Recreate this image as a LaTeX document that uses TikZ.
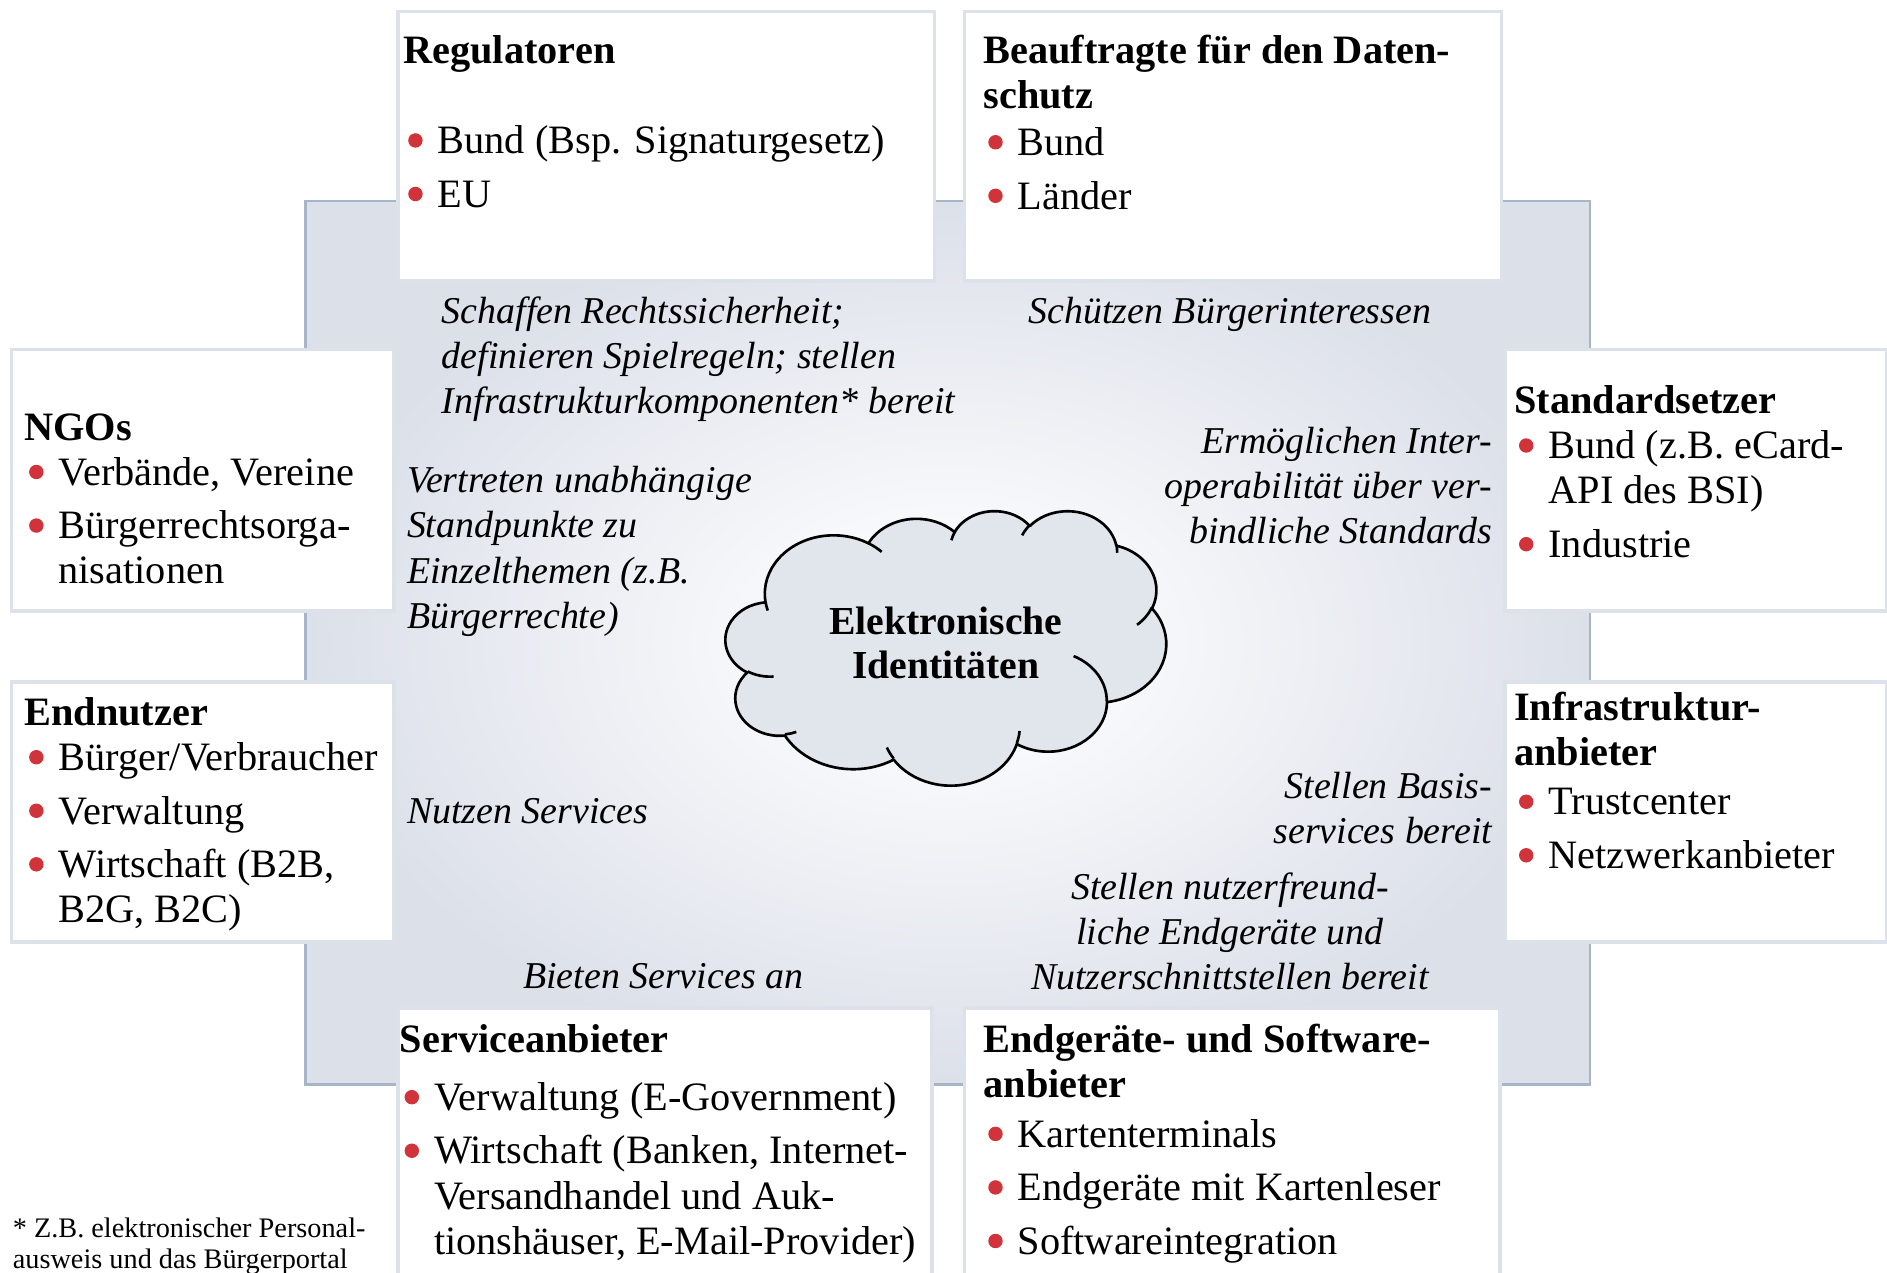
\documentclass[tikz,border=0pt]{standalone}
\usepackage{fontspec}
\setmainfont{Liberation Serif}
\usepackage{xcolor}
\definecolor{bred}{RGB}{208,52,58}
\definecolor{panelA}{HTML}{F9FAFC}
\definecolor{panelB}{HTML}{DCE0E9}
\definecolor{panelline}{HTML}{A8B4C8}
\definecolor{boxline}{HTML}{DDE2EA}
\definecolor{cloudfill}{HTML}{E1E5EC}
\pgfdeclareradialshading{panelshade}{\pgfpoint{0bp}{0bp}}{color(0bp)=(panelA); color(6bp)=(panelA); color(25bp)=(panelB); color(50bp)=(panelB)}
\newsavebox\bulbox
\newcommand\bul{\makebox[28.5pt][l]{\hspace{4pt}\raisebox{5pt}{\usebox\bulbox}}}
\newcommand\ind{\hspace*{28.5pt}}
% OOXML arcTo -> TikZ parametric arc
\newcommand\mkarc[5]{%
  \pgfmathsetmacro\tmpS{atan2((#2)*sin(#4),(#3)*cos(#4))}%
  \pgfmathsetmacro\tmpE{atan2((#2)*sin((#4)+(#5)),(#3)*cos((#4)+(#5)))}%
  \pgfmathsetmacro\tmpD{mod(\tmpE-\tmpS+720,360)}%
  \pgfmathsetmacro\tmpX{(#2)/10}\pgfmathsetmacro\tmpY{(#3)/10}%
  \expandafter\xdef\csname arcS#1\endcsname{\tmpS}%
  \expandafter\xdef\csname arcD#1\endcsname{\tmpD}%
  \expandafter\xdef\csname arcX#1\endcsname{\tmpX}%
  \expandafter\xdef\csname arcY#1\endcsname{\tmpY}%
}
\newcommand\carc[1]{arc[start angle=\csname arcS#1\endcsname, delta angle=\csname arcD#1\endcsname, x radius=\csname arcX#1\endcsname, y radius=\csname arcY#1\endcsname]}
\begin{document}
\sbox\bulbox{\begin{pgfpicture}\pgfsetfillcolor{bred}\pgfpathcircle{\pgfpointorigin}{6pt}\pgfusepath{fill}\end{pgfpicture}}%
\mkarc{A}{6753}{9190}{-190.48748}{123.78053}%
\mkarc{B}{5333}{7267}{-144.10238}{89.94523}%
\mkarc{C}{4365}{5945}{-145.80792}{99.72302}%
\mkarc{D}{4857}{6595}{-130.98607}{117.24173}%
\mkarc{E}{5333}{7273}{-78.70888}{109.02692}%
\mkarc{F}{6775}{9220}{-46.26725}{130.269}%
\mkarc{G}{5785}{7867}{0.62502}{114.03333}%
\mkarc{H}{6752}{9215}{22.4516}{115.17255}%
\mkarc{I}{7720}{10543}{66.24263}{75.71102}%
\mkarc{J}{4360}{5918}{-274.94208}{146.73557}%
\mkarc{K}{4345}{5945}{-246.8285}{152.51885}%
\mkarc{a}{4345}{5945}{86.742}{26.4295}%
\mkarc{b}{4360}{5918}{73.6105}{11.4475}%
\mkarc{c}{6752}{9215}{137.6242}{14.0811}%
\mkarc{d}{6752}{9215}{6.4533}{15.9984}%
\mkarc{e}{5785}{7867}{-70.2924}{70.9174}%
\mkarc{f}{5333}{7273}{30.3180}{27.7515}%
\mkarc{g}{4857}{6595}{-13.7443}{14.8589}%
\mkarc{h}{4857}{6595}{-149.1815}{18.1954}%
\mkarc{i}{4365}{5945}{-163.4943}{17.6864}%
\mkarc{j}{6753}{9190}{-66.7070}{12.3194}%
\mkarc{k}{6753}{9190}{157.6544}{11.8582}%
\begin{tikzpicture}[x=1pt,y=-1pt,
  wbox/.style={fill=white, draw=boxline, line width=3pt, inner sep=0, anchor=north west},
  boxtext/.style={inner sep=0, anchor=north west, align=left, font=\fontsize{33.5}{37.5}\selectfont},
  lbl/.style={inner sep=0, font=\fontsize{31.5}{37.5}\selectfont\itshape},
  cloudline/.style={draw=black, line width=2.2pt, line join=round}]
\useasboundingbox (0,0) rectangle (1568,1057);
% central panel
\node[shade, shading=panelshade, draw=panelline, line width=2pt, inner sep=0,
      minimum width=1067pt, minimum height=734pt, anchor=north west] (panel) at (253,166) {};
% white boxes
\node[wbox, minimum width=446pt, minimum height=224pt] (reg) at (329,8) {};
\node[wbox, minimum width=446pt, minimum height=224pt] (dsb) at (800,8) {};
\node[wbox, minimum width=318pt, minimum height=217pt] (ngo) at (8,289) {};
\node[wbox, minimum width=318pt, minimum height=216pt] (end) at (8,565) {};
\node[wbox, minimum width=317pt, minimum height=217pt] (std) at (1249,289) {};
\node[wbox, minimum width=317pt, minimum height=216pt] (inf) at (1249,565) {};
\node[wbox, minimum width=444pt, minimum height=240pt] (srv) at (329,836) {};
\node[wbox, minimum width=445pt, minimum height=240pt] (dev) at (800,836) {};
% box texts
\node[boxtext] (regT) at (335,26.25) {\strut\textbf{Regulatoren}\\[37.5pt]\bul Bund (Bsp. Signaturgesetz)\\[7pt]\bul EU};
\node[boxtext] (dsbT) at (817,26.25) {\strut\textbf{Beauftragte für den Daten-}\\\textbf{schutz}\\[1.5pt]\bul Bund\\[7pt]\bul Länder};
\node[boxtext] (ngoT) at (20,339.25) {\strut\textbf{NGOs}\\\bul Verbände, Vereine\\[7pt]\bul Bürgerrechtsorga-\\\ind nisationen};
\node[boxtext] (endT) at (20,576.25) {\strut\textbf{Endnutzer}\\\bul Bürger/Verbraucher\\[7pt]\bul Verwaltung\\[7pt]\bul Wirtschaft (B2B,\\\ind B2G, B2C)};
\node[boxtext] (stdT) at (1258,317.25) {\strut\textbf{Standardsetzer}\\\bul Bund (z.B. eCard-\\\ind API des BSI)\\[7pt]\bul Industrie};
\node[boxtext] (infT) at (1258,572.25) {\strut\textbf{Infrastruktur-}\\\textbf{anbieter}\\[3.5pt]\bul Trustcenter\\[7pt]\bul Netzwerkanbieter};
\node[boxtext] (srvT) at (332,848.25) {\strut\textbf{Serviceanbieter}\\[10.5pt]\bul Verwaltung (E-Government)\\[7pt]\bul Wirtschaft (Banken, Internet-\\\ind Versandhandel und Auk-\\\ind tionshäuser, E-Mail-Provider)};
\node[boxtext] (devT) at (817,848.25) {\strut\textbf{Endgeräte- und Software-}\\\textbf{anbieter}\\[3.5pt]\bul Kartenterminals\\[7pt]\bul Endgeräte mit Kartenleser\\[7pt]\bul Softwareintegration};
% relation labels
\node[lbl, anchor=north west, align=left] (l1) at (367,242) {\strut Schaffen Rechtssicherheit;\\definieren Spielregeln; stellen\\Infrastrukturkomponenten* bereit};
\node[lbl, anchor=north] (l2) at (1022,242) {\strut Schützen Bürgerinteressen};
\node[lbl, anchor=north west, align=left] (l3) at (338,383) {\strut Vertreten unabhängige\\Standpunkte zu\\Einzelthemen (z.B.\\Bürgerrechte)};
\node[lbl, anchor=north east, align=right] (l4) at (1240,350) {\strut Ermöglichen Inter-\\operabilität über ver-\\bindliche Standards};
\node[lbl, anchor=north west] (l5) at (338,658) {\strut Nutzen Services};
\node[lbl, anchor=north east, align=right] (l6) at (1240,637) {\strut Stellen Basis-\\services bereit};
\node[lbl, anchor=north, align=center] (l7) at (1022,721) {\strut Stellen nutzerfreund-\\liche Endgeräte und\\Nutzerschnittstellen bereit};
\node[lbl, anchor=north] (l8) at (551,795) {\strut Bieten Services an};
% cloud
\begin{scope}[shift={(603,424)}, xscale=0.084722, yscale=0.052778]
\path[cloudline, fill=cloudfill] (390,1437) \carc{A} \carc{B} \carc{C} \carc{D} \carc{E} \carc{F} \carc{G} \carc{H} \carc{I} \carc{J} \carc{K} -- cycle;
\draw[cloudline] (469.3,2617.7) \carc{a};
\draw[cloudline] (692.8,3489.9) \carc{b};
\draw[cloudline] (1647.8,3909.0) \carc{c};
\draw[cloudline] (2882.7,3475.1) \carc{d};
\draw[cloudline] (3412.9,2295.4) \carc{e};
\draw[cloudline] (4179.8,1535.4) \carc{f};
\draw[cloudline] (3832.4,542.6) \carc{g};
\draw[cloudline] (2907.8,395.2) \carc{h};
\draw[cloudline] (2214.1,472.0) \carc{i};
\draw[cloudline] (1400.0,519.2) \carc{j};
\draw[cloudline] (412.7,1578.9) \carc{k};
\end{scope}
\node[inner sep=0, anchor=north, align=center, font=\fontsize{33}{36}\selectfont\bfseries] (cloudT) at (786,502.2) {\strut Elektronische\\Identitäten};
% footnote
\node[inner sep=0, anchor=north west, align=left, font=\fontsize{23.5}{25.5}\selectfont] (fn) at (10.5,1010.15) {\strut * Z.B. elektronischer Personal-\\ausweis und das Bürgerportal};
\end{tikzpicture}
\end{document}
